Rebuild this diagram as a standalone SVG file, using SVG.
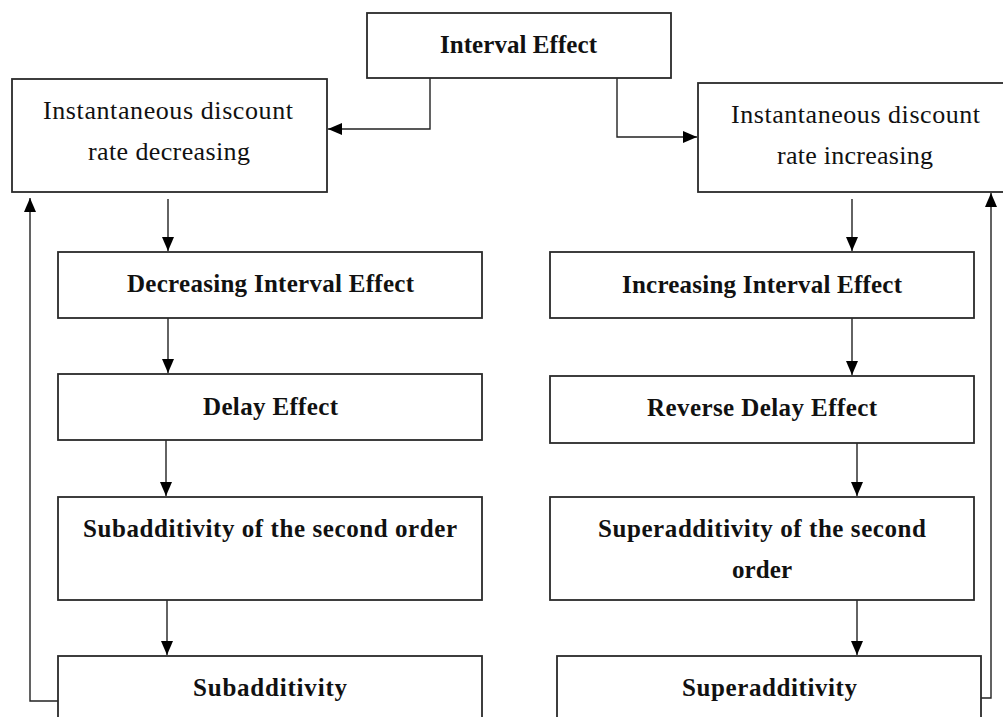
<svg xmlns="http://www.w3.org/2000/svg" width="1003" height="717" viewBox="0 0 1003 717">
<style>
.box{fill:#fff;stroke:#2a2a2a;stroke-width:1.8}
.t{font-family:"Liberation Serif","Times New Roman",serif;font-size:26px;fill:#111;text-anchor:start}
.b{font-weight:bold;font-size:25px}
.c{fill:none;stroke:#222;stroke-width:1.4}
</style>
<defs>
<marker id="ah" viewBox="0 0 14 12" refX="14" refY="6" markerWidth="14" markerHeight="12" markerUnits="userSpaceOnUse" orient="auto">
<path d="M0,0 L14,6 L0,12 Z" fill="#000"/>
</marker>
</defs>
<rect width="1003" height="717" fill="#fff"/>
<g id="connectors">
<path class="c" d="M430,78 V129 H328" marker-end="url(#ah)"/>
<path class="c" d="M617,78 V137 H697" marker-end="url(#ah)"/>
<path class="c" d="M168,199 V251" marker-end="url(#ah)"/>
<path class="c" d="M168,318 V373" marker-end="url(#ah)"/>
<path class="c" d="M166,440 V496" marker-end="url(#ah)"/>
<path class="c" d="M167,600 V655" marker-end="url(#ah)"/>
<path class="c" d="M58,701 H30 V198" marker-end="url(#ah)"/>
<path class="c" d="M852,199 V251" marker-end="url(#ah)"/>
<path class="c" d="M852,318 V375" marker-end="url(#ah)"/>
<path class="c" d="M857,443 V496" marker-end="url(#ah)"/>
<path class="c" d="M857,600 V655" marker-end="url(#ah)"/>
<path class="c" d="M981,698 H991 V193" marker-end="url(#ah)"/>
</g>
<g id="n-interval">
<rect class="box" x="367" y="13" width="304" height="65"/>
<text class="t b" x="440" y="53" textLength="157">Interval Effect</text>
</g>
<g id="n-inst-dec">
<rect class="box" x="12" y="79" width="315" height="113"/>
<text class="t" x="43" y="119" textLength="250">Instantaneous discount</text>
<text class="t" x="88" y="160" textLength="162">rate decreasing</text>
</g>
<g id="n-inst-inc">
<rect class="box" x="698" y="83" width="310" height="109"/>
<text class="t" x="731" y="123" textLength="249">Instantaneous discount</text>
<text class="t" x="777" y="164" textLength="156">rate increasing</text>
</g>
<g id="n-dec-int">
<rect class="box" x="58" y="252" width="424" height="66"/>
<text class="t b" x="127" y="292" textLength="287">Decreasing Interval Effect</text>
</g>
<g id="n-delay">
<rect class="box" x="58" y="374" width="424" height="66"/>
<text class="t b" x="203" y="415" textLength="135">Delay Effect</text>
</g>
<g id="n-subadd2">
<rect class="box" x="58" y="497" width="424" height="103"/>
<text class="t b" x="83" y="537" textLength="374">Subadditivity of the second order</text>
</g>
<g id="n-subadd">
<rect class="box" x="58" y="656" width="424" height="80"/>
<text class="t b" x="193" y="696" textLength="154">Subadditivity</text>
</g>
<g id="n-inc-int">
<rect class="box" x="550" y="252" width="424" height="66"/>
<text class="t b" x="622" y="293" textLength="280">Increasing Interval Effect</text>
</g>
<g id="n-rev-delay">
<rect class="box" x="550" y="376" width="424" height="67"/>
<text class="t b" x="647" y="416" textLength="230">Reverse Delay Effect</text>
</g>
<g id="n-superadd2">
<rect class="box" x="550" y="497" width="424" height="103"/>
<text class="t b" x="598" y="537" textLength="328">Superadditivity of the second</text>
<text class="t b" x="732" y="578" textLength="60">order</text>
</g>
<g id="n-superadd">
<rect class="box" x="557" y="656" width="424" height="80"/>
<text class="t b" x="682" y="696" textLength="175">Superadditivity</text>
</g>
</svg>
